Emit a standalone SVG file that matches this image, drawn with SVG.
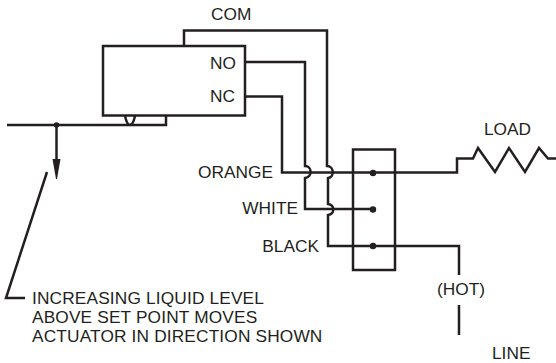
<svg xmlns="http://www.w3.org/2000/svg" width="556" height="363" viewBox="0 0 556 363">
<style>
.w{fill:none;stroke:#231f20;stroke-width:2.5;stroke-linejoin:miter}
.d{fill:#231f20}
text{font-family:"Liberation Sans",Arial,sans-serif;font-size:17.3px;fill:#231f20}
.e{text-anchor:end}
.n{letter-spacing:.15px}
</style>
<rect width="556" height="363" fill="#fff"/>
<g id="connectors">
<path class="w" d="M184 46V30.500H327V166C334 166 335 177 328 178V204C335 205 335 214 328 215V246H459V275"/>
<path class="w" d="M245 62H305V166C312 166 313 177 305 178V209H373"/>
<path class="w" d="M245 96.500H282V172.500H457V158.500H473L478 148L495 172L509 148L525 172L539 148L548 158.500H556"/>
<path class="w" d="M459 305V335"/>
<path class="w" d="M47 172L6 298H25"/>
</g>
<g id="switch">
<rect class="w" x="103" y="46" width="142" height="69.500"/>
<text class="e" x="236" y="69">NO</text>
<text class="e" x="235" y="102">NC</text>
</g>
<g id="actuator">
<path class="w" d="M7 125H166V115.500"/>
<path class="w" d="M125 116Q127 125 130 125Q133 125 135 116"/>
<circle class="d" cx="56.500" cy="125" r="2.800"/>
<path class="w" d="M56.500 125V165"/>
<path class="d" d="M52.500 159H60.500L57 179H56Z"/>
</g>
<g id="terminal">
<rect class="w" x="353" y="149.500" width="42" height="120.500"/>
<circle class="d" cx="373" cy="173" r="3.200"/>
<circle class="d" cx="373" cy="209.500" r="3.200"/>
<circle class="d" cx="373" cy="246" r="3.200"/>
</g>
<g id="labels">
<text x="211" y="20">COM</text>
<text class="e" x="273" y="178">ORANGE</text>
<text class="e" x="298" y="214">WHITE</text>
<text class="e" x="319" y="252">BLACK</text>
<text x="484" y="135">LOAD</text>
<text x="437" y="295">(HOT)</text>
<text x="492" y="359">LINE</text>
<text class="n" x="32" y="304">INCREASING LIQUID LEVEL</text>
<text class="n" x="32" y="323">ABOVE SET POINT MOVES</text>
<text class="n" x="32" y="342">ACTUATOR IN DIRECTION SHOWN</text>
</g>
</svg>
